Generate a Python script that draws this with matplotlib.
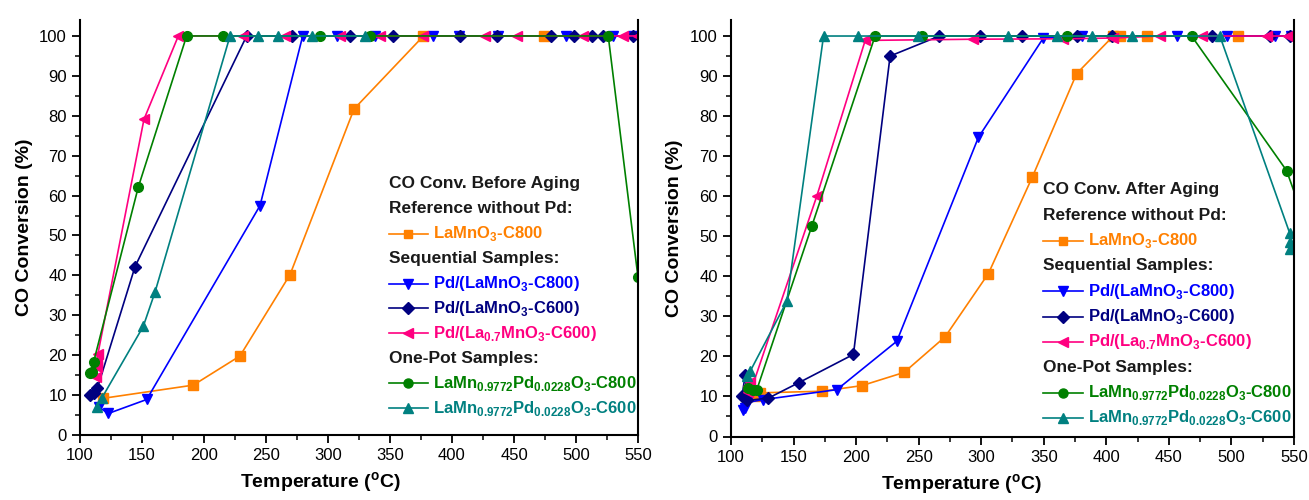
import matplotlib
matplotlib.use("Agg")
import matplotlib.pyplot as plt
from matplotlib.ticker import MultipleLocator

plt.rcParams['font.family'] = ['Liberation Sans', 'DejaVu Sans']
plt.rcParams['mathtext.fontset'] = 'custom'
plt.rcParams['mathtext.rm'] = 'Liberation Sans'
plt.rcParams['mathtext.bf'] = 'Liberation Sans:bold'

# ---- data: CO conversion before aging (left panel) ----
b_ref_T = [118.8, 191.4, 229, 269.4, 321, 377, 474]
b_ref_y = [9.2, 12.5, 19.8, 40.2, 81.7, 100, 100]

b_s800_T = [115, 122.9, 153.8, 245.2, 279.6, 307, 338, 385, 406, 437, 492, 530, 546]
b_s800_y = [7.0, 5.4, 8.9, 57.5, 100, 100, 100, 100, 100, 100, 100, 100, 100]

b_s600_T = [108, 111, 114, 144.4, 234.4, 270.6, 317.7, 352.6, 406.5, 436, 480, 498, 513, 522, 546]
b_s600_y = [10, 10.5, 11.7, 42.2, 100, 100, 100, 100, 100, 100, 100, 100, 100, 100, 100]

b_la07_T = [113, 113.5, 114, 114.5, 151.6, 179.3, 231.7, 265.3, 309.7, 341.9, 376.9, 426.7, 452.2, 505.9, 538, 550]
b_la07_y = [14.6, 17, 18.5, 20.4, 79.1, 100, 100, 100, 100, 100, 100, 100, 100, 100, 100, 100]

b_op800_T = [108, 109.4, 111, 147, 186, 215.6, 293.5, 333.9, 526, 550]
b_op800_y = [15.5, 15.8, 18.3, 62.1, 100, 100, 100, 100, 100, 39.5]

b_op600_T = [113.4, 117.5, 151, 160.5, 221, 243.8, 259.9, 286.8, 329.8]
b_op600_y = [7.1, 9.2, 27.2, 35.8, 100, 100, 100, 100, 100]

# ---- data: CO conversion after aging (right panel) ----
a_ref_T = [119.4, 123, 172.7, 204.6, 238.4, 271.2, 305.8, 340.9, 376.3, 405.6, 410.9, 432.3, 505.4]
a_ref_y = [10.0, 10.9, 11.3, 12.7, 16.0, 24.9, 40.7, 64.8, 90.6, 100, 100, 100, 100]

a_s800_T = [110, 111.4, 113, 125.6, 184.7, 232.6, 297.8, 349.7, 380.3, 456.2, 496.1, 534.7, 548]
a_s800_y = [6.7, 7.1, 8.5, 9.2, 11.7, 23.8, 74.7, 99.5, 100, 100, 100, 100, 100]

a_s600_T = [108.8, 111.4, 113, 130, 154, 197.9, 227.2, 266.6, 299.1, 332.4, 376.3, 404.3, 484.2, 530.7, 547]
a_s600_y = [10, 15.4, 9, 9.6, 13.4, 20.5, 95.0, 100, 100, 100, 100, 100, 100, 100, 100]

a_la07_T = [113.5, 114, 115.4, 116, 168.7, 207.3, 293.8, 365.6, 405, 442.9, 476.2, 528.1, 545.4]
a_la07_y = [11, 12.5, 13.5, 11.5, 60.1, 98.9, 99.2, 99.3, 99.5, 100, 100, 100, 100]

a_op800_T = [114, 118, 120.7, 164.7, 215.2, 252.5, 368.4, 468.2, 544.1, 556]
a_op800_y = [12, 11.5, 11.7, 52.6, 100, 100, 100, 100, 66.4, 56]

a_op600_T = [113, 115.4, 144.7, 174, 201.9, 249.8, 321.7, 360.4, 388.3, 420.3, 490.8, 546.7, 547, 547.2]
a_op600_y = [15, 16.3, 33.8, 100, 100, 100, 100, 100, 100, 100, 100, 50.7, 48.5, 46.7]

labels = [r'LaMnO$_\mathbf{3}$-C800',
          r'Pd/(LaMnO$_\mathbf{3}$-C800)',
          r'Pd/(LaMnO$_\mathbf{3}$-C600)',
          r'Pd/(La$_\mathbf{0.7}$MnO$_\mathbf{3}$-C600)',
          r'LaMn$_\mathbf{0.9772}$Pd$_\mathbf{0.0228}$O$_\mathbf{3}$-C800',
          r'LaMn$_\mathbf{0.9772}$Pd$_\mathbf{0.0228}$O$_\mathbf{3}$-C600']
colors = ['#FF8000', '#0000FF', '#000080', '#FF0080', '#008000', '#008080']
markers = ['s', 'v', 'D', '<', 'o', '^']
msizes = [6.5, 7.5, 6.5, 7.5, 7, 7.5]

before = [(b_ref_T, b_ref_y), (b_s800_T, b_s800_y), (b_s600_T, b_s600_y),
          (b_la07_T, b_la07_y), (b_op800_T, b_op800_y), (b_op600_T, b_op600_y)]
after = [(a_ref_T, a_ref_y), (a_s800_T, a_s800_y), (a_s600_T, a_s600_y),
         (a_la07_T, a_la07_y), (a_op800_T, a_op800_y), (a_op600_T, a_op600_y)]

fig = plt.figure(figsize=(13.09, 5.0), dpi=100)
ax1 = fig.add_axes([0.0611, 0.13, 0.4263, 0.83])
ax2 = fig.add_axes([0.5584, 0.127, 0.4301, 0.833])


def draw_panel(ax, series, title, lx, ly, dy):
    for (T, y), c, m, ms in zip(series, colors, markers, msizes):
        ax.plot(T, y, color=c, marker=m, markersize=ms, lw=1.2)
    ax.set_xlim(100, 550)
    ax.set_ylim(0, 104)
    ax.xaxis.set_major_locator(MultipleLocator(50))
    ax.xaxis.set_minor_locator(MultipleLocator(25))
    ax.yaxis.set_major_locator(MultipleLocator(10))
    ax.yaxis.set_minor_locator(MultipleLocator(5))
    ax.set_yticks(range(0, 101, 10))
    ax.tick_params(which='major', direction='out', length=6, width=1.3, labelsize=12)
    ax.tick_params(which='minor', direction='out', length=3.5, width=1.1)
    ax.spines['top'].set_visible(False)
    for s in ['left', 'bottom', 'right']:
        ax.spines[s].set_linewidth(1.5)
    ax.set_xlabel(r'Temperature ($\mathbf{^o}$C)', fontsize=14, fontweight='bold')
    ax.set_ylabel('CO Conversion (%)', fontsize=14, fontweight='bold')

    # legend block drawn in axes coordinates
    rows = [(title, None), ('Reference without Pd:', None), (labels[0], 0),
            ('Sequential Samples:', None), (labels[1], 1), (labels[2], 2), (labels[3], 3),
            ('One-Pot Samples:', None), (labels[4], 4), (labels[5], 5)]
    for i, (txt, k) in enumerate(rows):
        yy = ly - i * dy
        if k is None:
            ax.text(lx, yy, txt, transform=ax.transAxes, fontsize=12.5,
                    fontweight='bold', color='#1a1a1a', va='center', ha='left')
        else:
            ax.plot([lx, lx + 0.07], [yy, yy], transform=ax.transAxes, color=colors[k],
                    lw=1.2, clip_on=False)
            ax.plot([lx + 0.035], [yy], transform=ax.transAxes, color=colors[k],
                    marker=markers[k], markersize=msizes[k] - 0.5, clip_on=False)
            ax.text(lx + 0.08, yy, txt, transform=ax.transAxes, fontsize=12,
                    fontweight='bold', color=colors[k], va='center', ha='left')


draw_panel(ax1, before, 'CO Conv. Before Aging', 0.553, 0.605, 0.06)
draw_panel(ax2, after, 'CO Conv. After Aging', 0.555, 0.592, 0.0608)

ax1.xaxis.set_label_coords(0.43, -0.085)
ax2.xaxis.set_label_coords(0.41, -0.085)
ax1.yaxis.set_label_coords(-0.085, 0.5)
ax2.yaxis.set_label_coords(-0.085, 0.5)

fig.savefig('out.png', dpi=100)
